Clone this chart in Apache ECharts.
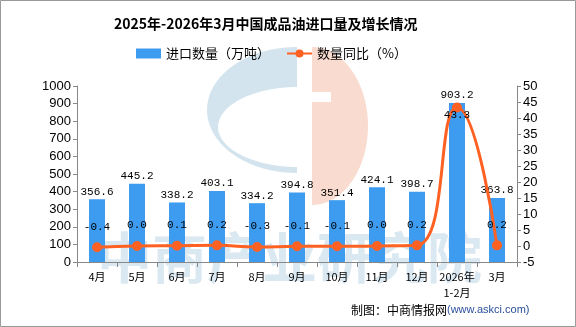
<!DOCTYPE html>
<html><head><meta charset="utf-8">
<script src="https://cdn.jsdelivr.net/npm/echarts@6/dist/echarts.min.js"></script>
<style>html,body{margin:0;padding:0;background:#fff}#c{width:576px;height:327px}</style>
</head><body><div id="c"></div>
<script>
const categories = ['4月','5月','6月','7月','8月','9月','10月','11月','12月','2026年\n1-2月','3月'];
const importVolume = [356.6,445.2,338.2,403.1,334.2,394.8,351.4,424.1,398.7,903.2,363.8];
const yoyGrowth = [-0.4,0.0,0.1,0.2,-0.3,-0.1,-0.1,0.0,0.2,43.3,0.2];
const leftTicks = {min:0,max:1000,interval:100};
const rightTicks = {min:-5,max:50,interval:5};

// decorative watermark logo outline (half-ellipses)
function halfEllipse(cx, cy, rx, ry, side) {
  const pts = [];
  for (let k = 0; k <= 40; k++) {
    const t = -Math.PI / 2 + Math.PI * k / 40;
    pts.push([cx + side * rx * Math.cos(t), cy + ry * Math.sin(t)]);
  }
  return pts;
}

const chart = echarts.init(document.getElementById('c'));
const labelFont = {fontFamily:'Liberation Mono',fontSize:11,color:'#000'};
chart.setOption({
  animation:false,
  backgroundColor:'#fff',
  title:{text:'2025年-2026年3月中国成品油进口量及增长情况',left:109,top:12,
    textStyle:{fontFamily:'Noto Sans CJK SC',fontSize:14,fontWeight:'bold',color:'#000'}},
  legend:{top:42,left:131,itemGap:16,itemWidth:25,itemHeight:10,
    textStyle:{fontFamily:'Noto Sans CJK SC',fontSize:13,color:'#000'},
    data:[{name:'进口数量（万吨）',icon:'rect'},{name:'数量同比（%）'}]},
  grid:{left:77,right:59,top:86,bottom:65},
  xAxis:{type:'category',data:categories,
    axisLine:{lineStyle:{color:'#888'}},
    axisTick:{show:true,lineStyle:{color:'#888'},length:5},
    axisLabel:{color:'#000',fontFamily:'Noto Sans CJK SC',fontSize:11,interval:0,margin:7,lineHeight:16}},
  yAxis:[
    {type:'value',min:leftTicks.min,max:leftTicks.max,interval:leftTicks.interval,
     splitLine:{show:false},
     axisLine:{show:true,lineStyle:{color:'#888'}},
     axisTick:{show:true,lineStyle:{color:'#888'},length:4},
     axisLabel:{color:'#000',fontFamily:'Liberation Sans',fontSize:13,margin:6,formatter:v=>String(v)}},
    {type:'value',min:rightTicks.min,max:rightTicks.max,interval:rightTicks.interval,
     splitLine:{show:false},
     axisLine:{show:true,lineStyle:{color:'#888'}},
     axisTick:{show:true,lineStyle:{color:'#888'},length:4},
     axisLabel:{color:'#000',fontFamily:'Liberation Sans',fontSize:13,margin:6,formatter:v=>String(v)}}
  ],
  graphic:[
    {type:'rect',z:-10,silent:true,shape:{x:0.5,y:0.5,width:575,height:326},style:{fill:'none',stroke:'#999',lineWidth:1}},
    {type:'polygon',z:-6,silent:true,shape:{points:halfEllipse(297,110,90,63,-1)},style:{fill:'#d3e4ee'}},
    {type:'polygon',z:-5,silent:true,shape:{points:halfEllipse(298,127,80,40,-1)},style:{fill:'#fff'}},
    {type:'polygon',z:-4,silent:true,shape:{points:halfEllipse(312,126,56,79,1)},style:{fill:'#f9dccf'}},
    {type:'rect',z:-3,silent:true,shape:{x:311,y:92,width:20,height:10},style:{fill:'#fff'}},
    {type:'text',z:-2,silent:true,left:97,top:230,style:{text:'中商产业研究院',fill:'#dae8f1',font:'bold 55px "Noto Sans CJK SC"'}},
    {type:'text',left:351,top:304,style:{rich:{a:{fontFamily:'Noto Sans CJK SC',fontSize:12,fill:'#000'},b:{fontFamily:'Liberation Sans',fontSize:11,fill:'#2a4f9a'}},text:'{a|制图：中商情报网}{b|(www.askci.com)}'}}
  ],
  series:[
    {name:'进口数量（万吨）',type:'bar',data:importVolume,barWidth:16,
     itemStyle:{color:'#3d9cf0'},
     label:{show:true,position:'top',distance:2,...labelFont,formatter:p=>p.value.toFixed(1)}},
    {name:'数量同比（%）',type:'line',yAxisIndex:1,smooth:true,
     data:yoyGrowth.map((v,i)=>i===9?{value:v,label:{position:'bottom',distance:-3}}:v),
     symbol:'circle',symbolSize:10,
     lineStyle:{color:'#ff6123',width:3},itemStyle:{color:'#ff6123'},
     label:{show:true,position:'top',distance:10,...labelFont,formatter:p=>p.value.toFixed(1)}}
  ]
});
</script></body></html>
